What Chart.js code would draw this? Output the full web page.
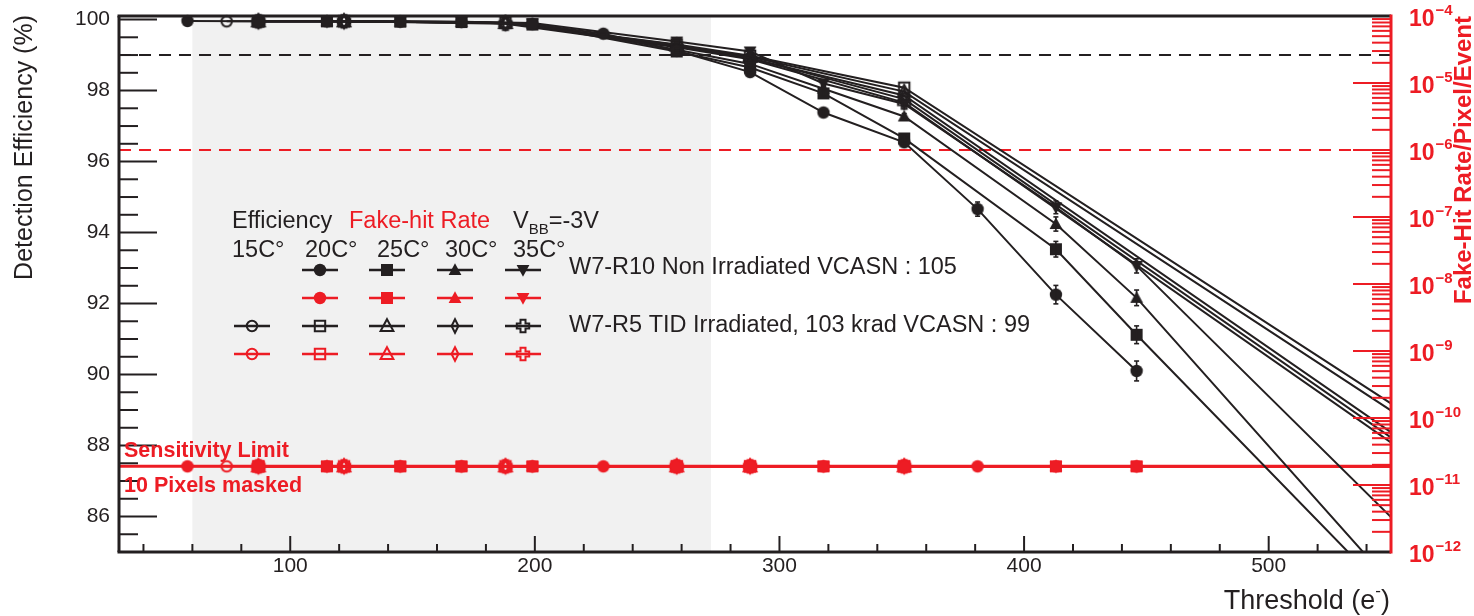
<!DOCTYPE html>
<html>
<head>
<meta charset="utf-8">
<title>Detection efficiency and fake-hit rate vs threshold</title>
<script src="https://cdn.jsdelivr.net/npm/chart.js@4.4.1/dist/chart.umd.min.js"></script>
<style>
  html, body { margin: 0; padding: 0; background: #fff; }
  #wrap { position: relative; width: 1474px; height: 616px; }
</style>
</head>
<body>
<div id="wrap"><canvas id="chart"></canvas></div>
<script>
const BLACK = '#231f20';
const RED = '#ed1c24';
const SHADE = '#f1f1f1';
const FONT = '"Liberation Sans", Arial, Helvetica, sans-serif';

// axes
const thresholdRange = [30, 550];
const effRange = [85, 100.1];
const rateRange = [1e-12, 1e-4];
const xTicks = [100, 200, 300, 400, 500];
const yTicks = [86, 88, 90, 92, 94, 96, 98, 100];
const rateDecades = [-12, -11, -10, -9, -8, -7, -6, -5, -4];

// reference levels
const scanWindow = [60, 272];
const effTarget = 99;
const rateTarget = 1e-6;
const sensitivityLimit = 1.9e-11;

// W7-R10, non irradiated, VCASN 105 (threshold in e-, efficiency in %)
const thrR10T20 = [58, 87, 115, 145, 170, 199, 228, 258, 288, 318, 351, 381, 413, 446];
const effR10T20 = [99.96, 99.95, 99.95, 99.94, 99.93, 99.87, 99.6, 99.12, 98.52, 97.38, 96.54, 94.66, 92.25, 90.1];
const errR10T20 = [0, 0, 0, 0, 0, 0, 0.02, 0.03, 0.05, 0.07, 0.09, 0.2, 0.26, 0.28];
const fhrR10T20 = [1.9e-11, 1.9e-11, 1.9e-11, 1.9e-11, 1.9e-11, 1.9e-11, 1.9e-11, 1.9e-11, 1.9e-11, 1.9e-11, 1.9e-11, 1.9e-11, 1.9e-11, 1.9e-11];

const thrR10 = [87, 115, 145, 170, 199, 258, 288, 318, 351, 413, 446, 600];
const effR10T25 = [99.95, 99.95, 99.94, 99.93, 99.86, 99.1, 98.65, 97.92, 96.65, 93.53, 91.12, 80.22];
const errR10T25 = [0, 0, 0, 0, 0, 0.03, 0.05, 0.07, 0.1, 0.22, 0.25, 0];
const effR10T30 = [99.95, 99.95, 99.94, 99.93, 99.88, 99.15, 98.75, 98.05, 97.27, 94.24, 92.16, 80.25];
const errR10T30 = [0, 0, 0, 0, 0, 0.03, 0.04, 0.06, 0.08, 0.2, 0.22, 0];
const effR10T35 = [99.95, 99.95, 99.95, 99.94, 99.9, 99.38, 99.1, 98.2, 97.62, 94.71, 93.06, 82.58];
const errR10T35 = [0, 0, 0, 0, 0, 0.03, 0.04, 0.05, 0.07, 0.18, 0.2, 0];
const fhrR10T25 = [1.9e-11, 1.9e-11, 1.9e-11, 1.9e-11, 1.9e-11, 1.9e-11, 1.9e-11, 1.9e-11, 1.9e-11, 1.9e-11, 1.9e-11, 1.9e-11];
const fhrR10T30 = [1.9e-11, 1.9e-11, 1.9e-11, 1.9e-11, 1.9e-11, 1.9e-11, 1.9e-11, 1.9e-11, 1.9e-11, 1.9e-11, 1.9e-11, 1.9e-11];
const fhrR10T35 = [1.9e-11, 1.9e-11, 1.9e-11, 1.9e-11, 1.9e-11, 1.9e-11, 1.9e-11, 1.9e-11, 1.9e-11, 1.9e-11, 1.9e-11, 1.9e-11];

// W7-R5, TID irradiated 103 krad, VCASN 99
const thrR5T15 = [74, 122, 188, 258, 288, 351, 600];
const effR5T15 = [99.95, 99.95, 99.9, 99.28, 98.92, 97.76, 85.83];
const thrR5 = [87, 122, 188, 258, 288, 351, 600];
const effR5T20 = [99.95, 99.95, 99.91, 99.3, 98.98, 98.08, 86.95];
const effR5T25 = [99.95, 99.95, 99.9, 99.27, 98.95, 97.97, 86.73];
const effR5T30 = [99.95, 99.95, 99.9, 99.25, 98.9, 97.86, 85.99];
const effR5T35 = [99.95, 99.95, 99.88, 99.22, 98.88, 97.66, 85.68];
const fhrR5T15 = [1.9e-11, 1.9e-11, 1.9e-11, 1.9e-11, 1.9e-11, 1.9e-11, 1.9e-11];
const fhrR5T20 = [1.9e-11, 1.9e-11, 1.9e-11, 1.9e-11, 1.9e-11, 1.9e-11, 1.9e-11];
const fhrR5T25 = [1.9e-11, 1.9e-11, 1.9e-11, 1.9e-11, 1.9e-11, 1.9e-11, 1.9e-11];
const fhrR5T30 = [1.9e-11, 1.9e-11, 1.9e-11, 1.9e-11, 1.9e-11, 1.9e-11, 1.9e-11];
const fhrR5T35 = [1.9e-11, 1.9e-11, 1.9e-11, 1.9e-11, 1.9e-11, 1.9e-11, 1.9e-11];

// ROOT-like marker glyphs, drawn once and reused as point styles
function makeMarker(shape, color, filled) {
  const size = 20;
  const c = document.createElement('canvas');
  c.width = size;
  c.height = size;
  const g = c.getContext('2d');
  g.translate(size / 2, size / 2);
  g.fillStyle = color;
  g.strokeStyle = color;
  g.lineWidth = 2;
  g.beginPath();
  if (shape === 'circle') {
    g.arc(0, 0, filled ? 6.2 : 5.2, 0, Math.PI * 2);
  } else if (shape === 'square') {
    if (filled) g.rect(-6, -6, 12, 12);
    else g.rect(-5.2, -5.2, 10.4, 10.4);
  } else if (shape === 'triUp') {
    g.moveTo(0, -6.8); g.lineTo(6.4, 5); g.lineTo(-6.4, 5); g.closePath();
  } else if (shape === 'triDown') {
    g.moveTo(0, 6.8); g.lineTo(6.4, -5); g.lineTo(-6.4, -5); g.closePath();
  } else if (shape === 'diamond') {
    g.moveTo(0, -6.8); g.lineTo(3.4, 0); g.lineTo(0, 6.8); g.lineTo(-3.4, 0); g.closePath();
  } else if (shape === 'cross') {
    const a = 2.5, b = 6.2;
    const pts = [[-a, -b], [a, -b], [a, -a], [b, -a], [b, a], [a, a], [a, b], [-a, b], [-a, a], [-b, a], [-b, -a], [-a, -a]];
    pts.forEach((p, i) => (i ? g.lineTo(p[0], p[1]) : g.moveTo(p[0], p[1])));
    g.closePath();
  }
  if (filled) g.fill(); else g.stroke();
  return c;
}

const mk = {
  r10: ['circle', 'square', 'triUp', 'triDown'],
  r5: ['circle', 'square', 'triUp', 'diamond', 'cross']
};
const blackFilled = mk.r10.map(s => makeMarker(s, BLACK, true));
const redFilled = mk.r10.map(s => makeMarker(s, RED, true));
const blackOpen = mk.r5.map(s => makeMarker(s, BLACK, false));
const redOpen = mk.r5.map(s => makeMarker(s, RED, false));

const CLIP = { left: 0, top: 8, right: 0, bottom: 0 };

function effSet(thr, eff, err, marker) {
  return {
    data: thr.map((t, i) => ({ x: t, y: eff[i] })),
    yAxisID: 'y',
    borderColor: BLACK,
    borderWidth: 2,
    pointStyle: marker,
    pointRadius: 6,
    clip: CLIP,
    errs: err || []
  };
}

function rateSet(thr, rate, marker) {
  return {
    data: thr.map((t, i) => ({ x: t, y: rate[i] })),
    yAxisID: 'y2',
    borderColor: RED,
    borderWidth: 2,
    pointStyle: marker,
    pointRadius: 6,
    clip: CLIP
  };
}

const datasets = [
  effSet(thrR10T20, effR10T20, errR10T20, blackFilled[0]),
  effSet(thrR10, effR10T25, errR10T25, blackFilled[1]),
  effSet(thrR10, effR10T30, errR10T30, blackFilled[2]),
  effSet(thrR10, effR10T35, errR10T35, blackFilled[3]),
  effSet(thrR5T15, effR5T15, null, blackOpen[0]),
  effSet(thrR5, effR5T20, null, blackOpen[1]),
  effSet(thrR5, effR5T25, null, blackOpen[2]),
  effSet(thrR5, effR5T30, null, blackOpen[3]),
  effSet(thrR5, effR5T35, null, blackOpen[4]),
  rateSet(thrR10T20, fhrR10T20, redFilled[0]),
  rateSet(thrR10, fhrR10T25, redFilled[1]),
  rateSet(thrR10, fhrR10T30, redFilled[2]),
  rateSet(thrR10, fhrR10T35, redFilled[3]),
  rateSet(thrR5T15, fhrR5T15, redOpen[0]),
  rateSet(thrR5, fhrR5T20, redOpen[1]),
  rateSet(thrR5, fhrR5T25, redOpen[2]),
  rateSet(thrR5, fhrR5T30, redOpen[3]),
  rateSet(thrR5, fhrR5T35, redOpen[4])
];

function hline(ctx, area, py, color, width, dash) {
  ctx.beginPath();
  ctx.setLineDash(dash);
  ctx.strokeStyle = color;
  ctx.lineWidth = width;
  ctx.moveTo(area.left, py);
  ctx.lineTo(area.right, py);
  ctx.stroke();
  ctx.setLineDash([]);
}

function seg(ctx, x0, y0, x1, y1) {
  ctx.beginPath();
  ctx.moveTo(x0, y0);
  ctx.lineTo(x1, y1);
  ctx.stroke();
}

function legendEntry(ctx, img, cx, cy, color) {
  ctx.strokeStyle = color;
  ctx.lineWidth = 2.5;
  seg(ctx, cx - 18, cy, cx + 18, cy);
  ctx.drawImage(img, cx - img.width / 2, cy - img.height / 2);
}

// frame, ticks, labels and the in-pad legend in ROOT style
const rootFrame = {
  id: 'rootFrame',
  beforeDatasetsDraw(chart) {
    const { ctx, chartArea: a, scales: { x, y, y2 } } = chart;
    ctx.save();
    const x0 = x.getPixelForValue(scanWindow[0]);
    const x1 = x.getPixelForValue(scanWindow[1]);
    ctx.fillStyle = SHADE;
    ctx.fillRect(x0, a.top, x1 - x0, a.bottom - a.top);
    hline(ctx, a, y.getPixelForValue(effTarget), BLACK, 2, [12, 8]);
    hline(ctx, a, y2.getPixelForValue(rateTarget), RED, 2, [12, 8]);
    hline(ctx, a, y2.getPixelForValue(sensitivityLimit), RED, 3, []);
    ctx.restore();
  },
  afterDatasetsDraw(chart) {
    const { ctx, chartArea: a, scales: { x, y, y2 } } = chart;
    ctx.save();

    // error bars on efficiency points
    ctx.beginPath();
    ctx.rect(a.left, a.top, a.right - a.left, a.bottom - a.top);
    ctx.clip();
    ctx.strokeStyle = BLACK;
    ctx.lineWidth = 1.6;
    chart.data.datasets.forEach((ds, i) => {
      if (!ds.errs || !ds.errs.length) return;
      const meta = chart.getDatasetMeta(i);
      ds.errs.forEach((e, j) => {
        if (!e) return;
        const p = meta.data[j];
        const v = ds.data[j].y;
        const yt = y.getPixelForValue(v + e);
        const yb = y.getPixelForValue(v - e);
        seg(ctx, p.x, yt, p.x, yb);
        seg(ctx, p.x - 2.5, yt, p.x + 2.5, yt);
        seg(ctx, p.x - 2.5, yb, p.x + 2.5, yb);
      });
    });
    ctx.restore();

    ctx.save();
    ctx.lineCap = 'butt';
    // left axis ticks (major every 2 %, minor every 0.5 %)
    ctx.strokeStyle = BLACK;
    ctx.lineWidth = 2;
    for (let k = 171; k <= 200; k++) {
      const v = k / 2;
      const py = y.getPixelForValue(v);
      const len = v % 2 === 0 ? 38 : 19;
      seg(ctx, a.left, py, a.left + len, py);
    }
    // bottom axis ticks (major every 100, minor every 20)
    for (let t = 40; t <= 540; t += 20) {
      const px = x.getPixelForValue(t);
      const len = t % 100 === 0 ? 16 : 8;
      seg(ctx, px, a.bottom, px, a.bottom - len);
    }
    // right log axis ticks
    ctx.strokeStyle = RED;
    for (let d = -12; d < -4; d++) {
      for (let m = 1; m <= 9; m++) {
        const py = y2.getPixelForValue(m * Math.pow(10, d));
        seg(ctx, a.right, py, a.right - (m === 1 ? 38 : 19), py);
      }
    }
    seg(ctx, a.right, a.top, a.right - 38, a.top);

    // frame
    ctx.lineWidth = 3;
    ctx.strokeStyle = BLACK;
    seg(ctx, a.left - 1.5, a.top, a.right, a.top);
    seg(ctx, a.left - 1.5, a.bottom, a.right, a.bottom);
    seg(ctx, a.left, a.top, a.left, a.bottom);
    ctx.strokeStyle = RED;
    seg(ctx, a.right, a.top - 1.5, a.right, a.bottom + 1.5);
    ctx.restore();
  },
  afterDraw(chart) {
    const { ctx, chartArea: a, scales: { y2 } } = chart;
    ctx.save();
    ctx.textAlign = 'left';
    ctx.textBaseline = 'alphabetic';

    // right axis labels 10^n
    ctx.fillStyle = RED;
    rateDecades.forEach(d => {
      const py = y2.getPixelForValue(Math.pow(10, d));
      ctx.font = `bold 23px ${FONT}`;
      ctx.fillText('10', 1409, py + 10);
      const w = ctx.measureText('10').width;
      ctx.font = `bold 15px ${FONT}`;
      ctx.fillText('\u2212' + (-d), 1409 + w + 1, py - 1);
    });

    // right axis title
    ctx.save();
    ctx.translate(1471, a.top);
    ctx.rotate(-Math.PI / 2);
    ctx.textAlign = 'right';
    ctx.font = `bold 24px ${FONT}`;
    ctx.fillText('Fake-Hit Rate/Pixel/Event', 0, 0);
    ctx.restore();

    // left axis title
    ctx.fillStyle = BLACK;
    ctx.save();
    ctx.translate(32, 15);
    ctx.rotate(-Math.PI / 2);
    ctx.textAlign = 'right';
    ctx.font = `25px ${FONT}`;
    ctx.fillText('Detection Efficiency (%)', 0, 0);
    ctx.restore();

    // bottom axis title with superscript
    ctx.font = `27px ${FONT}`;
    const t1 = 'Threshold (e';
    const w1 = ctx.measureText(t1).width;
    const w3 = ctx.measureText(')').width;
    ctx.font = `17px ${FONT}`;
    const w2 = ctx.measureText('-').width;
    const x0 = 1390 - (w1 + w2 + w3);
    ctx.font = `27px ${FONT}`;
    ctx.fillText(t1, x0, 609);
    ctx.fillText(')', x0 + w1 + w2, 609);
    ctx.font = `17px ${FONT}`;
    ctx.fillText('-', x0 + w1, 596);

    // sensitivity annotation
    const ly = y2.getPixelForValue(sensitivityLimit);
    ctx.fillStyle = RED;
    ctx.font = `bold 21.5px ${FONT}`;
    ctx.textBaseline = 'middle';
    ctx.fillText('Sensitivity Limit', 124, ly - 15);
    ctx.fillText('10 Pixels masked', 124, ly + 20);

    // legend block
    const big = `23.5px ${FONT}`;
    ctx.font = big;
    ctx.fillStyle = BLACK;
    ctx.fillText('Efficiency', 232, 222);
    ctx.fillStyle = RED;
    ctx.fillText('Fake-hit Rate', 349, 222);
    ctx.fillStyle = BLACK;
    ctx.fillText('V', 513, 222);
    const wv = ctx.measureText('V').width;
    ctx.font = `15px ${FONT}`;
    ctx.fillText('BB', 513 + wv, 230);
    const wbb = ctx.measureText('BB').width;
    ctx.font = big;
    ctx.fillText('=-3V', 513 + wv + wbb, 222);

    const temps = ['15C\u00b0', '20C\u00b0', '25C\u00b0', '30C\u00b0', '35C\u00b0'];
    const tempX = [232, 305, 377, 445, 513];
    temps.forEach((s, i) => ctx.fillText(s, tempX[i], 251));

    const colX = [252, 320, 387, 455, 523];
    blackFilled.forEach((img, i) => legendEntry(ctx, img, colX[i + 1], 270, BLACK));
    redFilled.forEach((img, i) => legendEntry(ctx, img, colX[i + 1], 298, RED));
    blackOpen.forEach((img, i) => legendEntry(ctx, img, colX[i], 326, BLACK));
    redOpen.forEach((img, i) => legendEntry(ctx, img, colX[i], 354, RED));

    ctx.fillStyle = BLACK;
    ctx.font = big;
    ctx.fillText('W7-R10 Non Irradiated VCASN : 105', 569, 268);
    ctx.fillText('W7-R5 TID Irradiated, 103 krad VCASN : 99', 569, 326);
    ctx.restore();
  }
};

const tickFont = { family: FONT, size: 21 };

new Chart(document.getElementById('chart'), {
  type: 'line',
  data: { datasets },
  options: {
    responsive: true,
    maintainAspectRatio: false,
    animation: false,
    events: [],
    layout: { padding: { top: 16, left: 0, right: 0, bottom: 0 } },
    plugins: { legend: { display: false }, tooltip: { enabled: false } },
    elements: { line: { tension: 0 } },
    scales: {
      x: {
        type: 'linear',
        position: 'bottom',
        min: thresholdRange[0],
        max: thresholdRange[1],
        grid: { display: false, drawTicks: false },
        border: { display: false },
        ticks: { font: tickFont, color: BLACK, padding: 2, maxRotation: 0 },
        afterBuildTicks: s => { s.ticks = xTicks.map(v => ({ value: v })); },
        afterFit: s => { s.height = 64; s.paddingLeft = 0; s.paddingRight = 0; }
      },
      y: {
        type: 'linear',
        position: 'left',
        min: effRange[0],
        max: effRange[1],
        grid: { display: false, drawTicks: false },
        border: { display: false },
        ticks: { font: tickFont, color: BLACK, padding: 9 },
        afterBuildTicks: s => { s.ticks = yTicks.map(v => ({ value: v })); },
        afterFit: s => { s.width = 119; s.paddingTop = 0; s.paddingBottom = 0; }
      },
      y2: {
        type: 'logarithmic',
        position: 'right',
        min: rateRange[0],
        max: rateRange[1],
        grid: { display: false, drawTicks: false },
        border: { display: false },
        ticks: { display: false },
        afterFit: s => { s.width = 83; s.paddingTop = 0; s.paddingBottom = 0; }
      }
    }
  },
  plugins: [rootFrame]
});
</script>
</body>
</html>
